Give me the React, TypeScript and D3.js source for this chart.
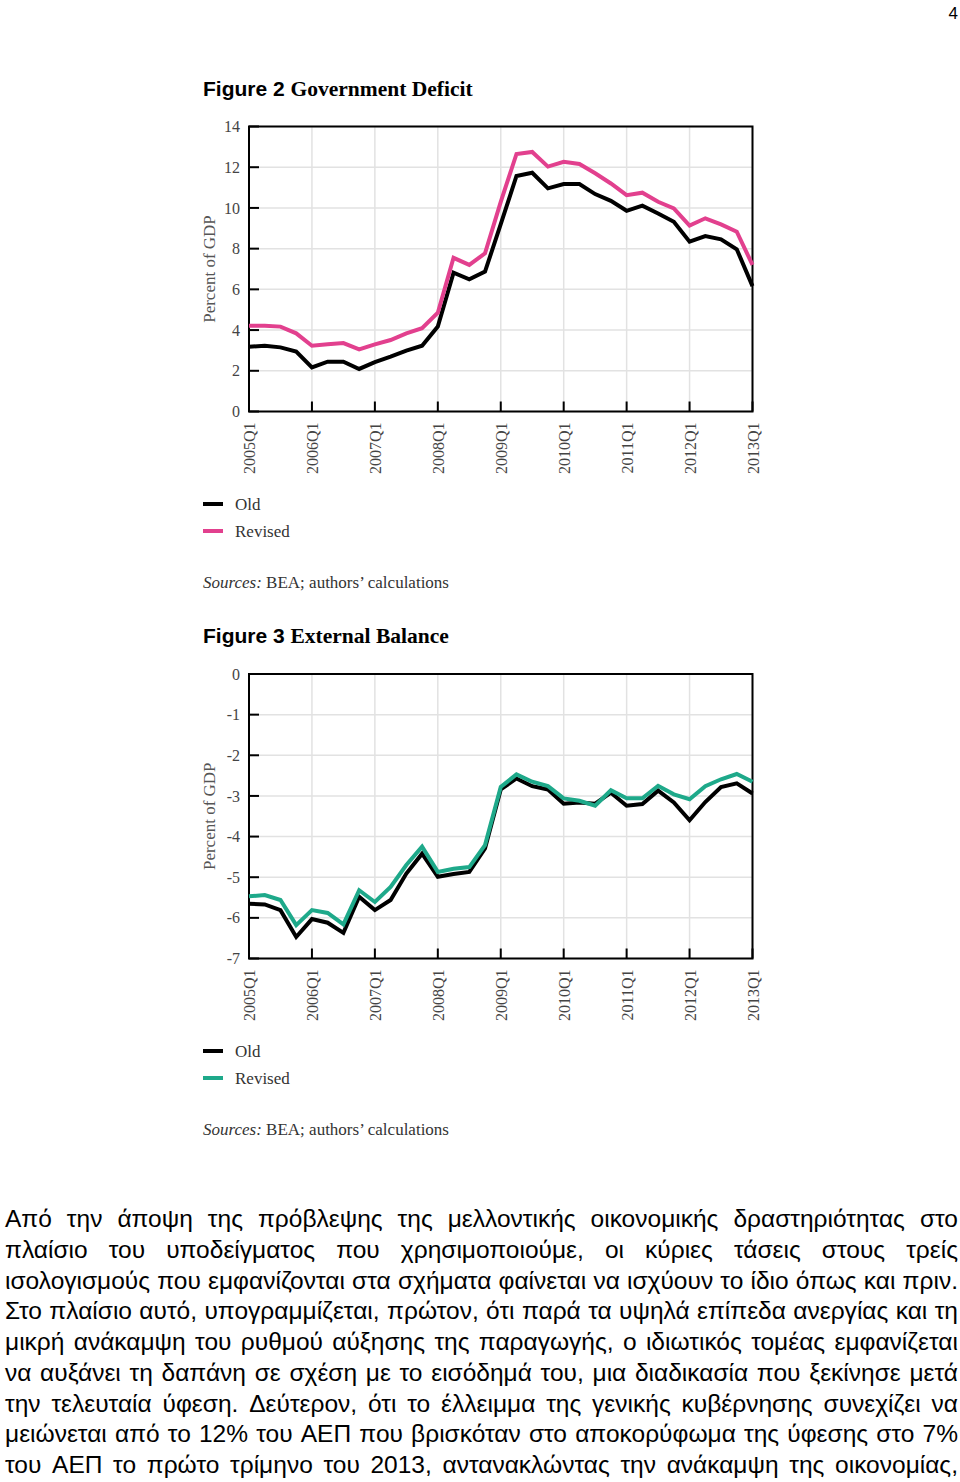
import { useEffect, useRef } from 'react'
import * as d3 from 'd3'

// quarterly data, 2005Q1 .. 2013Q1 (33 quarters)
const quarters = d3.range(2005, 2014).flatMap(y => [1, 2, 3, 4].map(q => `${y}Q${q}`)).slice(0, 33)
const yearTicks = ['2005Q1', '2006Q1', '2007Q1', '2008Q1', '2009Q1', '2010Q1', '2011Q1', '2012Q1', '2013Q1']

const oldDeficit = [3.18, 3.23, 3.15, 2.94, 2.17, 2.45, 2.45, 2.09, 2.42, 2.69, 2.99, 3.23, 4.17, 6.82, 6.49, 6.87,
  9.2, 11.57, 11.73, 10.96, 11.17, 11.17, 10.68, 10.35, 9.86, 10.11, 9.73, 9.32, 8.34, 8.62, 8.46, 7.97, 6.16]
const revisedDeficit = [4.21, 4.21, 4.17, 3.84, 3.23, 3.30, 3.36, 3.05, 3.30, 3.51, 3.84, 4.09, 4.85, 7.55, 7.2, 7.77,
  10.3, 12.65, 12.75, 12.03, 12.27, 12.16, 11.7, 11.2, 10.63, 10.75, 10.3, 9.98, 9.13, 9.49, 9.19, 8.83, 7.2]
const deficitTicks = [0, 2, 4, 6, 8, 10, 12, 14]

const oldExternal = [-5.65, -5.67, -5.81, -6.47, -6.03, -6.12, -6.37, -5.48, -5.81, -5.56, -4.91, -4.42, -4.99, -4.92, -4.87, -4.29,
  -2.84, -2.57, -2.76, -2.84, -3.19, -3.16, -3.19, -2.92, -3.24, -3.20, -2.87, -3.16, -3.60, -3.15, -2.78, -2.69, -2.94]
const revisedExternal = [-5.47, -5.44, -5.56, -6.18, -5.81, -5.88, -6.16, -5.32, -5.61, -5.24, -4.70, -4.25, -4.87, -4.79, -4.75, -4.21,
  -2.78, -2.47, -2.65, -2.76, -3.06, -3.12, -3.24, -2.86, -3.06, -3.06, -2.75, -2.96, -3.08, -2.76, -2.59, -2.46, -2.65]
const externalTicks = [0, -1, -2, -3, -4, -5, -6, -7]

const seriesNames = ['Old', 'Revised']

const paragraph = [
  'Από την άποψη της πρόβλεψης της μελλοντικής οικονομικής δραστηριότητας στο',
  'πλαίσιο του υποδείγματος που χρησιμοποιούμε, οι κύριες τάσεις στους τρείς',
  'ισολογισμούς που εμφανίζονται στα σχήματα φαίνεται να ισχύουν το ίδιο όπως και πριν.',
  'Στο πλαίσιο αυτό, υπογραμμίζεται, πρώτον, ότι παρά τα υψηλά επίπεδα ανεργίας και τη',
  'μικρή ανάκαμψη του ρυθμού αύξησης της παραγωγής, ο ιδιωτικός τομέας εμφανίζεται',
  'να αυξάνει τη δαπάνη σε σχέση με το εισόδημά του, μια διαδικασία που ξεκίνησε μετά',
  'την τελευταία ύφεση. Δεύτερον, ότι το έλλειμμα της γενικής κυβέρνησης συνεχίζει να',
  'μειώνεται από το 12% του ΑΕΠ που βρισκόταν στο αποκορύφωμα της ύφεσης στο 7%',
  'του ΑΕΠ το πρώτο τρίμηνο του 2013, αντανακλώντας την ανάκαμψη της οικονομίας,'
]

const SERIF = '"Liberation Serif", "Times New Roman", serif'
const SANS = '"Liberation Sans", Arial, sans-serif'
const W = 960
const H = 1482

interface ChartSpec {
  num: string
  title: string
  top: number       // title baseline
  plotTop: number
  plotBottom: number
  domain: [number, number]
  ticks: number[]
  oldVals: number[]
  revVals: number[]
  color: string
  legendY: number
  sourcesY: number
}

const charts: ChartSpec[] = [
  {
    num: 'Figure 2', title: 'Government Deficit', top: 96, plotTop: 126.5, plotBottom: 411.5,
    domain: [0, 14], ticks: deficitTicks, oldVals: oldDeficit, revVals: revisedDeficit,
    color: '#e2408e', legendY: 504, sourcesY: 588
  },
  {
    num: 'Figure 3', title: 'External Balance', top: 643, plotTop: 674, plotBottom: 958.5,
    domain: [-7, 0], ticks: externalTicks, oldVals: oldExternal, revVals: revisedExternal,
    color: '#1ea98a', legendY: 1051, sourcesY: 1135
  }
]

export default function App() {
  const svgRef = useRef<SVGSVGElement>(null)

  useEffect(() => {
    if (!svgRef.current) return
    const svg = d3.select(svgRef.current)
    svg.selectAll('*').remove()

    svg.append('rect').attr('width', W).attr('height', H).attr('fill', '#fff')

    // page number
    svg.append('text')
      .attr('x', 958).attr('y', 19)
      .attr('text-anchor', 'end')
      .style('font-family', SANS).style('font-size', '17px')
      .text('4')

    const x = d3.scaleLinear().domain([0, quarters.length - 1]).range([249, 752.5])

    charts.forEach(c => {
      const y = d3.scaleLinear().domain(c.domain).range([c.plotBottom, c.plotTop])
      const g = svg.append('g')

      // title
      const title = g.append('text').attr('x', 203).attr('y', c.top)
      title.append('tspan').style('font-family', SANS).style('font-weight', 'bold').style('font-size', '21px').text(c.num + ' ')
      title.append('tspan').style('font-family', SERIF).style('font-weight', 'bold').style('font-size', '21.5px').text(c.title)

      // grid
      g.append('g').selectAll('line.v')
        .data(yearTicks)
        .join('line')
        .attr('x1', d => x(quarters.indexOf(d))).attr('x2', d => x(quarters.indexOf(d)))
        .attr('y1', c.plotTop).attr('y2', c.plotBottom)
        .attr('stroke', '#e2e2e2').attr('stroke-width', 1.5)
      g.append('g').selectAll('line.h')
        .data(c.ticks)
        .join('line')
        .attr('x1', x(0)).attr('x2', x(quarters.length - 1))
        .attr('y1', d => y(d)).attr('y2', d => y(d))
        .attr('stroke', '#e2e2e2').attr('stroke-width', 1.5)

      // inner ticks
      g.append('g').selectAll('line')
        .data(c.ticks)
        .join('line')
        .attr('x1', x(0)).attr('x2', x(0) + 10)
        .attr('y1', d => y(d)).attr('y2', d => y(d))
        .attr('stroke', '#000').attr('stroke-width', 2)
      g.append('g').selectAll('line')
        .data(yearTicks)
        .join('line')
        .attr('x1', d => x(quarters.indexOf(d))).attr('x2', d => x(quarters.indexOf(d)))
        .attr('y1', c.plotBottom).attr('y2', c.plotBottom - 10)
        .attr('stroke', '#000').attr('stroke-width', 2)

      // frame
      g.append('rect')
        .attr('x', x(0)).attr('y', c.plotTop)
        .attr('width', x(quarters.length - 1) - x(0)).attr('height', c.plotBottom - c.plotTop)
        .attr('fill', 'none').attr('stroke', '#000').attr('stroke-width', 2)

      // y tick labels
      g.append('g').selectAll('text')
        .data(c.ticks)
        .join('text')
        .attr('x', 240).attr('y', d => y(d)).attr('dy', '0.35em')
        .attr('text-anchor', 'end')
        .style('font-family', SERIF).style('font-size', '16px').attr('fill', '#444')
        .text(d => String(d))

      // x tick labels (rotated)
      g.append('g').selectAll('text')
        .data(yearTicks)
        .join('text')
        .attr('transform', d => `translate(${x(quarters.indexOf(d)) + 6},${c.plotBottom + 11}) rotate(-90)`)
        .attr('text-anchor', 'end')
        .style('font-family', SERIF).style('font-size', '16px').attr('fill', '#444')
        .text(d => d)

      // y axis label
      g.append('text')
        .attr('transform', `translate(215,${(c.plotTop + c.plotBottom) / 2}) rotate(-90)`)
        .attr('text-anchor', 'middle')
        .style('font-family', SERIF).style('font-size', '17px').attr('fill', '#555')
        .text('Percent of GDP')

      // lines
      const line = d3.line<number>()
        .x((_, i) => x(i))
        .y(d => y(d))
      g.append('path').datum(c.oldVals)
        .attr('fill', 'none').attr('stroke', '#000').attr('stroke-width', 4).attr('d', line)
      g.append('path').datum(c.revVals)
        .attr('fill', 'none').attr('stroke', c.color).attr('stroke-width', 4).attr('d', line)

      // legend
      const colors = ['#000', c.color]
      const lg = g.append('g').selectAll('g')
        .data(seriesNames)
        .join('g')
        .attr('transform', (_, i) => `translate(203,${c.legendY + i * 27})`)
      lg.append('line').attr('x1', 0).attr('x2', 20)
        .attr('stroke', (_, i) => colors[i]).attr('stroke-width', 4)
      lg.append('text').attr('x', 32).attr('dy', '0.35em')
        .style('font-family', SERIF).style('font-size', '17px').attr('fill', '#333')
        .text(d => d)

      // sources
      const src = g.append('text').attr('x', 203).attr('y', c.sourcesY)
        .style('font-family', SERIF).style('font-size', '17px').attr('fill', '#333')
      src.append('tspan').style('font-style', 'italic').text('Sources:')
      src.append('tspan').text(' BEA; authors’ calculations')
    })

    // justified paragraph: size the font so the longest line just fits, then spread words
    const left = 5
    const right = 958
    const pg = svg.append('g')
      .style('font-family', SANS).style('font-size', '22px').attr('fill', '#000')
    const probe = pg.append('text').attr('x', 0).attr('y', -100)
    const natural = paragraph.map(ln => {
      probe.text(ln)
      return (probe.node() as SVGTextElement).getComputedTextLength()
    })
    probe.remove()
    const fs = Math.min(26, 22 * (right - left - 4) / (d3.max(natural) || 1))
    pg.style('font-size', `${fs}px`)

    paragraph.forEach((ln, li) => {
      const words = ln.split(' ')
      const baseline = 1227 + li * 30.75
      const nodes = words.map(w => pg.append('text').attr('y', baseline).text(w))
      const widths = nodes.map(n => (n.node() as SVGTextElement).getComputedTextLength())
      const gap = (right - left - d3.sum(widths)) / (words.length - 1)
      let cx = left
      nodes.forEach((n, i) => {
        n.attr('x', cx)
        cx += widths[i] + gap
      })
    })
  }, [])

  return (
    <svg ref={svgRef} width={W} height={H}
      style={{ position: 'absolute', left: 0, top: 0, display: 'block' }} />
  )
}
